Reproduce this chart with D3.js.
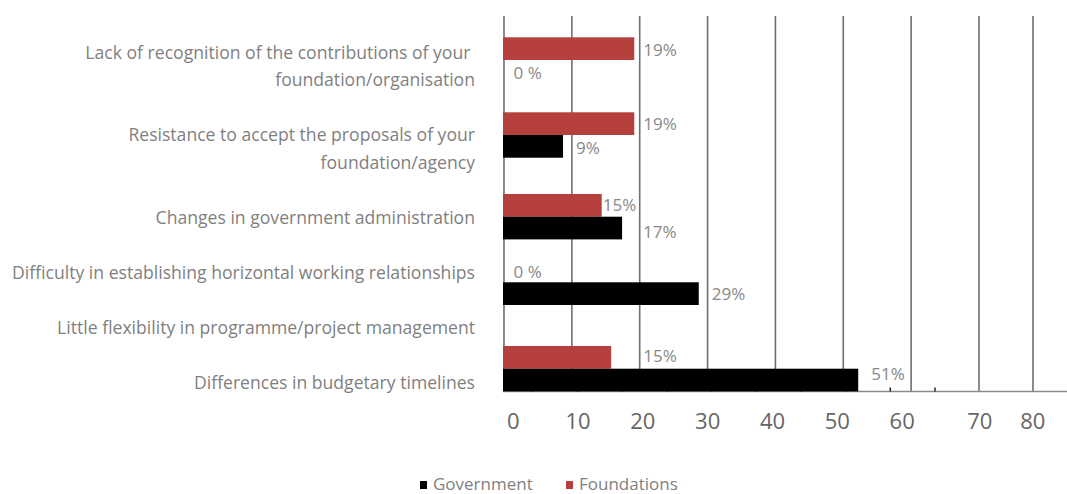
<!DOCTYPE html>
<html>
<head>
<meta charset="utf-8">
<script src="https://cdn.jsdelivr.net/npm/d3@7"></script>
<style>
  html, body { margin: 0; padding: 0; background: #fff; }
  svg { display: block; font-family: "Open Sans", "Noto Sans", sans-serif; }
</style>
</head>
<body>
<svg id="chart" width="1067" height="494"></svg>
<script>
// ---------------- data ----------------
const categories = [
  ["Lack of recognition of the contributions of your ", "foundation/organisation"],
  ["Resistance to accept the proposals of your", "foundation/agency"],
  ["Changes in government administration"],
  ["Difficulty in establishing horizontal working relationships"],
  ["Little flexibility in programme/project management"],
  ["Differences in budgetary timelines"]
];
const seriesNames = ["Government", "Foundations"];
const governmentValues  = [0, 8.7, 17.4, 28.7, null, 52.2];
const foundationsValues = [19.2, 19.2, 14.4, 0, null, 15.8];
const governmentLabels  = ["0 %", "9%", "17%", "29%", "", "51%"];
const foundationsLabels = ["19%", "19%", "15%", "0 %", "", "15%"];
const tickValues = [0, 10, 20, 30, 40, 50, 60, 70, 80];

// ---------------- layout ----------------
const colors = { Government: "#000000", Foundations: "#b5403d" };
const svg = d3.select("#chart");
const ids = categories.map((c, i) => "c" + i);

// grid / bar scale (the gridlines of the original are not evenly spaced at the end)
const x = d3.scaleLinear().domain([0, 70, 80]).range([504, 979, 1033]);
// tick label scale (labels drift from the gridlines in the original)
const xLab = d3.scaleLinear().domain([0, 60, 70, 80]).range([512.7, 901.7, 979.3, 1032.3]);
// minor tick marks on baseline
const xMinor = d3.scaleLinear().domain([0, 12]).range([488, 1024.4]);

const pairCenter = d3.scaleOrdinal().domain(ids).range([60, 135, 216.7, 282.3, 325, 368.7]);
const barH = 22.7;
const baseY = 391.5, topY = 16;

// gridlines
svg.append("g").selectAll("line").data(tickValues).join("line")
  .attr("x1", d => x(d)).attr("x2", d => x(d))
  .attr("y1", topY).attr("y2", baseY)
  .attr("stroke", "#6f6f6f").attr("stroke-width", 1.6);

// baseline
svg.append("line").attr("x1", x(0) - 1).attr("x2", 1067)
  .attr("y1", baseY).attr("y2", baseY)
  .attr("stroke", "#8a8a8a").attr("stroke-width", 1.5);

// minor ticks
svg.append("g").selectAll("line").data(d3.range(1, 11)).join("line")
  .attr("x1", d => xMinor(d)).attr("x2", d => xMinor(d))
  .attr("y1", baseY).attr("y2", baseY - 4)
  .attr("stroke", "#222").attr("stroke-width", 1.5);

// tick labels
const axis = d3.axisBottom(xLab).tickValues(tickValues).tickSize(0).tickPadding(0);
const ax = svg.append("g").attr("transform", `translate(0,${baseY})`).call(axis);
ax.select(".domain").remove();
ax.selectAll("text").attr("y", 0).attr("dy", 0)
  .attr("transform", "translate(0,37)")
  .attr("font-family", "Open Sans")
  .attr("font-size", 22).attr("fill", "#666");

// bars
const rows = categories.map((c, i) => ({
  id: ids[i], gov: governmentValues[i], fnd: foundationsValues[i],
  govLabel: governmentLabels[i], fndLabel: foundationsLabels[i]
}));
// label nudges (layout only)
const govDx = [9.5, 13, 21, 13, 0, 13], govDy = [2, 1.5, 4, 0.5, 0, -6];
const fndDx = [9, 9, 1, 9.5, 0, 32], fndDy = [1.5, 0.6, 0, 1, 0, -1];

const g = svg.append("g");
g.selectAll("rect.fnd").data(rows.filter(r => r.fnd)).join("rect")
  .attr("class", "fnd")
  .attr("x", x(0) - 1).attr("y", r => pairCenter(r.id) - barH)
  .attr("width", r => x(r.fnd) - x(0) + 1).attr("height", barH)
  .attr("fill", colors.Foundations);
g.selectAll("rect.gov").data(rows.filter(r => r.gov)).join("rect")
  .attr("class", "gov")
  .attr("x", x(0) - 1).attr("y", r => pairCenter(r.id))
  .attr("width", r => x(r.gov) - x(0) + 1).attr("height", barH)
  .attr("fill", colors.Government);

// data labels
const lab = svg.append("g").attr("font-size", 17).attr("fill", "#888");
rows.forEach((r, i) => {
  if (r.fndLabel) lab.append("text")
    .attr("x", x(r.fnd) + fndDx[i])
    .attr("y", pairCenter(r.id) - barH / 2 + fndDy[i])
    .attr("dy", "0.36em").text(r.fndLabel);
  if (r.govLabel) lab.append("text")
    .attr("x", x(r.gov) + govDx[i])
    .attr("y", pairCenter(r.id) + barH / 2 + govDy[i])
    .attr("dy", "0.36em").text(r.govLabel);
});

// category labels (stacked rows by number of lines)
const lineH = 27.5;
let yCursor = 25.75;
const catG = svg.append("g").attr("font-size", 17.6).attr("fill", "#7f7f7f")
  .attr("text-anchor", "end");
categories.forEach(lines => {
  const h = (lines.length + 1) * lineH;
  const c = yCursor + h / 2;
  const t = catG.append("text").attr("x", 475).style("white-space", "pre");
  lines.forEach((ln, j) => {
    t.append("tspan").attr("x", 475)
      .attr("y", c - (lines.length - 1) * lineH / 2 + j * lineH + 5.5)
      .text(ln);
  });
  yCursor += h;
});

// legend
const leg = svg.append("g").attr("font-size", 17).attr("fill", "#7f7f7f");
const legX = { Government: 420, Foundations: 566 };
seriesNames.forEach(name => {
  leg.append("rect").attr("x", legX[name]).attr("y", 481)
    .attr("width", 7).attr("height", 8).attr("fill", colors[name]);
  leg.append("text").attr("x", legX[name] + 13).attr("y", 490).text(name);
});
</script>
</body>
</html>
